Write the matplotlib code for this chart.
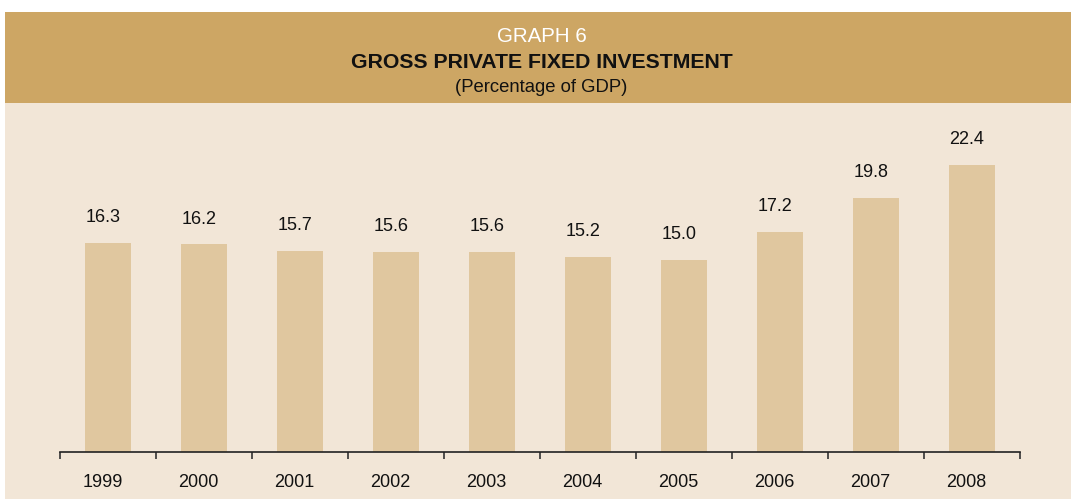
import matplotlib
matplotlib.use("Agg")
import matplotlib.pyplot as plt
from matplotlib.patches import Rectangle
from matplotlib.transforms import ScaledTranslation
import numpy as np

years = ["1999", "2000", "2001", "2002", "2003", "2004", "2005", "2006", "2007", "2008"]
values = [16.3, 16.2, 15.7, 15.6, 15.6, 15.2, 15.0, 17.2, 19.8, 22.4]
labels = ["16.3", "16.2", "15.7", "15.6", "15.6", "15.2", "15.0", "17.2", "19.8", "22.4"]

W, H = 1071, 499
plt.rcParams['font.family'] = ['Liberation Sans', 'DejaVu Sans']
fig = plt.figure(figsize=(W / 100, H / 100), dpi=100)
fig.patch.set_facecolor("white")

def fy(py):
    return 1 - py / H

# panel background
fig.patches.append(Rectangle((5 / W, 0), 1 - 5 / W, fy(102), transform=fig.transFigure,
                             facecolor="#F2E6D7", edgecolor="none", zorder=-10))
# header band
fig.patches.append(Rectangle((5 / W, fy(103)), 1 - 5 / W, (103 - 12) / H, transform=fig.transFigure,
                             facecolor="#CDA664", edgecolor="none", zorder=-10))

cx = 541.5 / W
fig.text(cx, fy(37), "GRAPH 6", color="white", fontsize=14.8, ha="center", va="center")
fig.text(cx, fy(63), "GROSS PRIVATE FIXED INVESTMENT", color="#111111",
         fontsize=15.3, fontweight="bold", ha="center", va="center")
fig.text(cx, fy(87), "(Percentage of GDP)", color="#111111", fontsize=13.3,
         ha="center", va="center")

px_per_unit = (452 - 165) / 22.4
ax = fig.add_axes([60 / W, (H - 452) / H, (1020 - 60) / W, (452 - 103) / H])
ax.set_zorder(5)
ax.set_facecolor("none")
x = np.arange(len(years))
ax.bar(x, values, width=46 / 96, color="#E0C79F", edgecolor="none")
ax.set_xlim(-0.5, len(years) - 0.5)
ax.set_ylim(0, (452 - 103) / px_per_unit)

for xi, v, lab in zip(x, values, labels):
    ax.annotate(lab, (xi, v), xytext=(-3.8, 18.3), textcoords="offset points",
                ha="center", va="center", fontsize=13, color="#111111")

for s in ["top", "right", "left"]:
    ax.spines[s].set_visible(False)
ax.spines["bottom"].set_color("#222222")
ax.spines["bottom"].set_linewidth(1.2)
ax.set_yticks([])
ax.set_xticks(x)
ax.set_xticklabels(years, fontsize=13, color="#111111")
ax.tick_params(axis="x", which="major", length=0, pad=16)
shift = ScaledTranslation(-5.5 / 100, 0, fig.dpi_scale_trans)
for t in ax.get_xticklabels():
    t.set_transform(t.get_transform() + shift)
ax.set_xticks(np.arange(-0.5, len(years), 1.0), minor=True)
ax.tick_params(axis="x", which="minor", length=5, width=1.2, color="#333333", direction="out")

fig.savefig("out.png", dpi=100)
